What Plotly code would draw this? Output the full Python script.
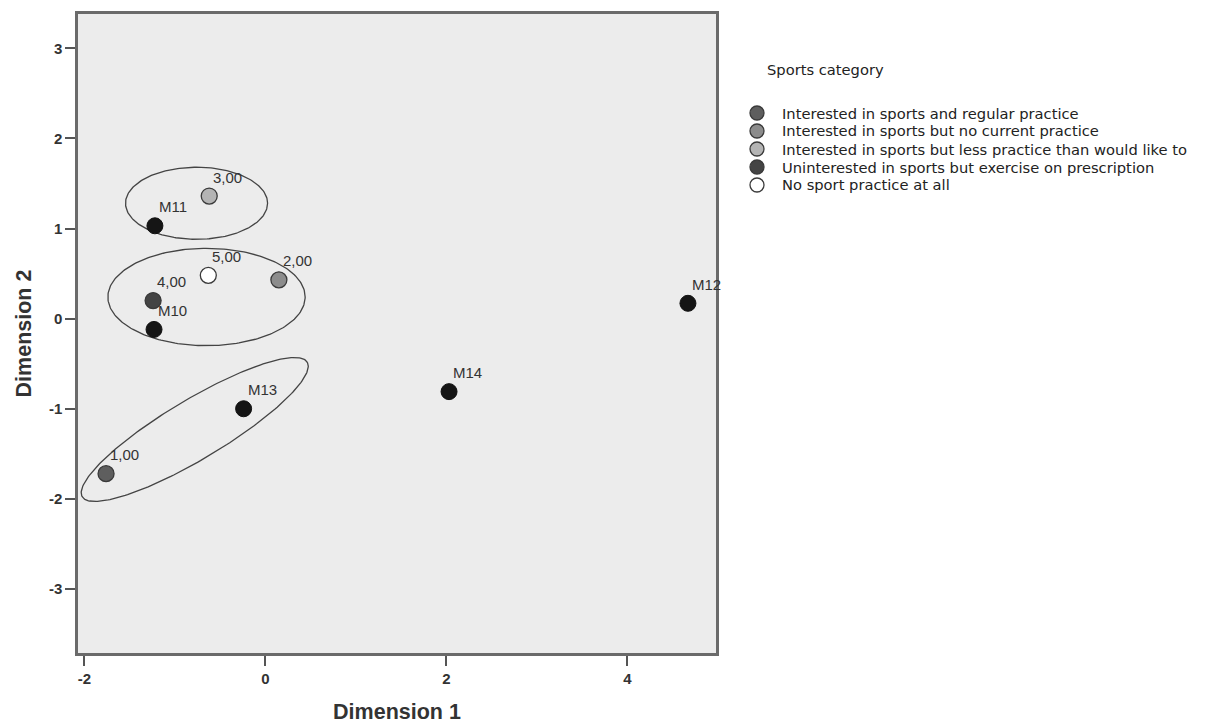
import numpy as np
import plotly.graph_objects as go

# Category points (sports categories)
cat_names = [
    "Interested in sports and regular practice",
    "Interested in sports but no current practice",
    "Interested in sports but less practice than would like to",
    "Uninterested in sports but exercise on prescription",
    "No sport practice at all",
]
cat_labels = ["1,00", "2,00", "3,00", "4,00", "5,00"]
cat_x = [-1.76, 0.15, -0.62, -1.24, -0.63]
cat_y = [-1.72, 0.43, 1.36, 0.20, 0.48]
cat_colors = ["#5e5e5e", "#8c8c8c", "#b4b4b4", "#444444", "#ffffff"]

# Object points
m_labels = ["M10", "M11", "M12", "M13", "M14"]
m_x = [-1.23, -1.22, 4.67, -0.24, 2.03]
m_y = [-0.12, 1.03, 0.17, -1.00, -0.81]

# Ellipses: center x, center y, semi-axis a, semi-axis b, angle (deg)
ell_cx = [-0.76, -0.65, -0.78]
ell_cy = [1.28, 0.24, -1.23]
ell_a = [0.785, 1.09, 1.45]
ell_b = [0.40, 0.54, 0.33]
ell_ang = [0, 0, 31]

xticks = [-2, 0, 2, 4]
yticks = [-3, -2, -1, 0, 1, 2, 3]
legend_title = "Sports category"

# layout geometry (figure pixels)
W, H = 1205, 724
ML, MT, PW, PH = 70, 6, 638, 639
MR, MB = W - ML - PW, H - MT - PH


def px_x(fx):
    return (fx - ML) / PW


def px_y(fy):
    return (MT + PH - fy) / PH


fig = go.Figure()

t = np.linspace(0, 2 * np.pi, 240)
for cx, cy, a, b, ang in zip(ell_cx, ell_cy, ell_a, ell_b, ell_ang):
    th = np.deg2rad(ang)
    ex = cx + a * np.cos(t) * np.cos(th) - b * np.sin(t) * np.sin(th)
    ey = cy + a * np.cos(t) * np.sin(th) + b * np.sin(t) * np.cos(th)
    fig.add_trace(go.Scatter(x=ex, y=ey, mode="lines", line=dict(color="#444444", width=1.3),
                             showlegend=False, hoverinfo="skip"))

fig.add_trace(go.Scatter(x=m_x, y=m_y, mode="markers",
                         marker=dict(size=16, color="#151515", line=dict(color="#111111", width=1)),
                         showlegend=False))

fig.add_trace(go.Scatter(x=cat_x, y=cat_y, mode="markers",
                         marker=dict(size=16, color=cat_colors, line=dict(color="#3a3a3a", width=1.3)),
                         showlegend=False))

for lab, x, y in list(zip(cat_labels, cat_x, cat_y)) + list(zip(m_labels, m_x, m_y)):
    fig.add_annotation(x=x, y=y, text=lab, showarrow=False, xanchor="left", yanchor="bottom",
                       xshift=2, yshift=8.5, font=dict(size=15, color="#333333"))

# legend (drawn manually to match spacing)
leg_font = dict(family="DejaVu Sans, Verdana, sans-serif", size=14.7, color="#222222")
fig.add_annotation(xref="paper", yref="paper", x=px_x(757), y=px_y(61), text=legend_title,
                   showarrow=False, xanchor="left", yanchor="middle", font=leg_font)
for i, (name, c) in enumerate(zip(cat_names, cat_colors)):
    fy = 105 + 18 * i
    fig.add_shape(type="circle", xref="paper", yref="paper", xsizemode="pixel", ysizemode="pixel",
                  xanchor=px_x(749), yanchor=px_y(fy), x0=-7, x1=7, y0=-7, y1=7,
                  fillcolor=c, line=dict(color="#3a3a3a", width=1.3))
    fig.add_annotation(xref="paper", yref="paper", x=px_x(772), y=px_y(fy), text=name,
                       showarrow=False, xanchor="left", yanchor="middle", font=leg_font)

axis_common = dict(showgrid=False, zeroline=False, ticks="outside", ticklen=10, tickwidth=2,
                   tickcolor="#555555", showline=True, linecolor="#6a6a6a", linewidth=2.5,
                   mirror=True, automargin=False,
                   tickfont=dict(size=15, color="#333333", weight="bold"))

fig.update_layout(
    width=W, height=H,
    margin=dict(l=ML, r=MR, t=MT, b=MB),
    paper_bgcolor="white", plot_bgcolor="#ececec",
    font=dict(family="Liberation Sans, Arial, sans-serif", color="#222222"),
    showlegend=False,
    xaxis=dict(range=[-2.07, 4.98], tickvals=xticks, ticktext=[str(v) for v in xticks],
               title=dict(text="<b>Dimension 1</b>", font=dict(size=21.5, color="#333333"), standoff=19),
               **axis_common),
    yaxis=dict(range=[-3.71, 3.38], tickvals=yticks, ticktext=[str(v) for v in yticks],
               title=dict(text="<b>Dimension 2</b>", font=dict(size=21.5, color="#333333"), standoff=12),
               **axis_common),
)

fig.write_html("out.html")
